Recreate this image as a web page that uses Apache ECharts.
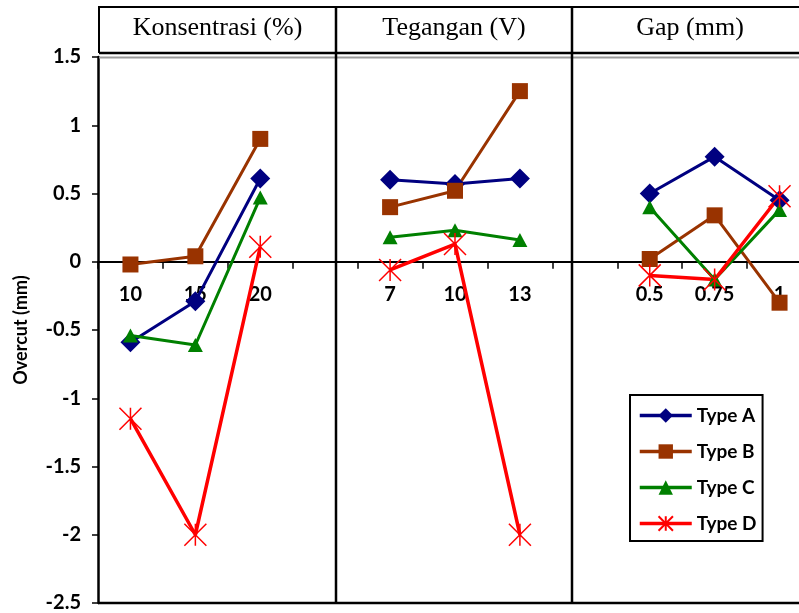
<!DOCTYPE html>
<html>
<head>
<meta charset="utf-8">
<script src="https://cdn.jsdelivr.net/npm/echarts@6/dist/echarts.min.js"></script>
<style>
  html, body { margin: 0; padding: 0; background: #fff; }
  #chart { width: 799px; height: 613px; }
</style>
</head>
<body>
<div id="chart"></div>
<script>
// Three factor groups share one category axis; blank slots separate the groups.
const categories = ['10', '15', '20', '', '7', '10', '13', '', '0.5', '0.75', '1'];
const groupTitles = ['Konsentrasi (%)', 'Tegangan (V)', 'Gap (mm)'];

// Overcut (mm) per type; null keeps the groups unconnected
const typeA = [-0.59, -0.29, 0.61, null, 0.60, 0.57, 0.61, null, 0.50, 0.77, 0.45];
const typeB = [-0.02, 0.04, 0.90, null, 0.40, 0.52, 1.25, null, 0.02, 0.34, -0.30];
const typeC = [-0.54, -0.61, 0.47, null, 0.18, 0.23, 0.16, null, 0.40, -0.13, 0.38];
const typeD = [-1.15, -2.00, 0.11, null, -0.06, 0.13, -2.00, null, -0.10, -0.13, 0.48];

const seriesNames = ['Type A', 'Type B', 'Type C', 'Type D'];
const yMin = -2.5, yMax = 1.5, yStep = 0.5;

const asterisk = 'path://M0,0L20,20M20,0L0,20M10,0L10,20';
const font = 'Lato, "Open Sans", sans-serif';

const chart = echarts.init(document.getElementById('chart'), null, { renderer: 'canvas' });

const gridLeft = 98, gridTop = 57, gridBottom = 603, gridWidth = 714;
const divX = [99, 336, 572];
const black = '#000';

function line(x1, y1, x2, y2, color, w) {
  return { type: 'line', silent: true, z: 100,
    shape: { x1, y1, x2, y2 }, style: { stroke: color, lineWidth: w } };
}

const graphics = [
  line(99, 7, 799, 7, black, 2),
  line(99, 53, 799, 53, black, 2.5),
  line(99, 57.5, 799, 57.5, '#9a9a9a', 2),
  line(98, gridBottom, 799, gridBottom, black, 2.5),
  line(divX[0], 6, divX[0], 53, black, 2),
  line(divX[1], 6, divX[1], gridBottom, black, 2.5),
  line(divX[2], 6, divX[2], gridBottom, black, 2.5)
];
const centers = [217.5, 454, 690];
groupTitles.forEach((t, i) => {
  graphics.push({ type: 'text', silent: true, z: 100,
    x: centers[i], y: 28,
    style: { text: t, fill: black, font: '26px "Liberation Serif", "Times New Roman", serif',
      align: 'center', verticalAlign: 'middle' } });
});

function mkSeries(name, data, color, symbol, size, extra) {
  return Object.assign({
    name, type: 'line', data, symbol, symbolSize: size,
    connectNulls: false,
    xAxisIndex: 0, yAxisIndex: 0,
    lineStyle: { color, width: 3 },
    itemStyle: { color },
    emphasis: { disabled: true }
  }, extra || {});
}

const labelStyle = { color: black, fontFamily: font, fontWeight: 'bold', fontSize: 20 };

chart.setOption({
  animation: false,
  backgroundColor: '#fff',
  grid: [
    // main plotting area
    { left: gridLeft, top: gridTop, width: gridWidth, height: gridBottom - gridTop,
      containLabel: false, outerBoundsMode: 'none' },
    // helper area whose bottom edge sits on y = 0, carrying the category axis
    { left: gridLeft, top: gridTop, width: gridWidth, height: 200,
      containLabel: false, outerBoundsMode: 'none' }
  ],
  legend: {
    orient: 'vertical', left: 630, top: 395,
    backgroundColor: '#fff', borderColor: black, borderWidth: 2,
    padding: [11, 6, 8, 8],
    itemWidth: 52, itemHeight: 18, itemGap: 17,
    lineStyle: { width: 3.5 },
    textStyle: { fontFamily: font, fontWeight: 'bold', fontSize: 19, color: black },
    data: seriesNames
  },
  xAxis: [
    { gridIndex: 0, type: 'category', data: categories, boundaryGap: true, show: false },
    { gridIndex: 1, type: 'category', data: categories, boundaryGap: true, position: 'bottom',
      axisLine: { onZero: false, lineStyle: { color: black, width: 2 } },
      axisTick: { show: true, interval: 0, length: 7, inside: false, lineStyle: { color: black, width: 1.5 } },
      axisLabel: Object.assign({ interval: 0, margin: 23 }, labelStyle),
      splitLine: { show: false } }
  ],
  yAxis: [
    { gridIndex: 0, type: 'value', min: yMin, max: yMax, interval: yStep,
      name: 'Overcut (mm)', nameLocation: 'middle', nameRotate: 90, nameGap: 68,
      nameTextStyle: { fontFamily: font, fontWeight: 'bold', fontSize: 18, color: black },
      axisLine: { show: true, onZero: false, lineStyle: { color: black, width: 2.5 } },
      axisTick: { show: true, length: 6, lineStyle: { color: black, width: 1.5 } },
      axisLabel: Object.assign({ margin: 17 }, labelStyle),
      splitLine: { show: false } },
    { gridIndex: 1, type: 'value', show: false, splitLine: { show: false } }
  ],
  series: [
    mkSeries(seriesNames[0], typeA, '#000080', 'diamond', [20, 20]),
    mkSeries(seriesNames[1], typeB, '#993300', 'rect', [16, 16]),
    mkSeries(seriesNames[2], typeC, '#008000', 'triangle', [15, 14]),
    mkSeries(seriesNames[3], typeD, '#FF0000', asterisk, [22, 22], {
      lineStyle: { color: '#FF0000', width: 3.5 },
      itemStyle: { color: '#FF0000', borderColor: '#FF0000', borderWidth: 1.5 }
    })
  ],
  graphic: graphics
});

// Put the category axis exactly on the value axis' zero.
const zeroY = chart.convertToPixel({ yAxisIndex: 0 }, 0);
chart.setOption({
  grid: [{}, { height: zeroY - gridTop }]
});
</script>
</body>
</html>
